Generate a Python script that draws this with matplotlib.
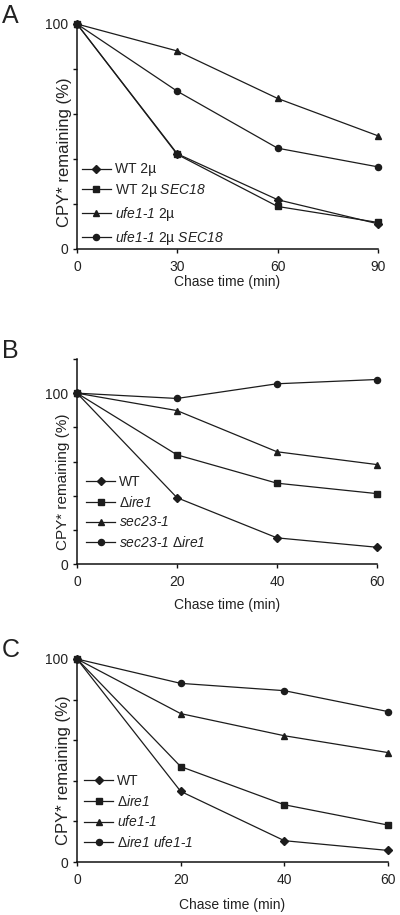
import matplotlib
matplotlib.use("Agg")
import matplotlib.pyplot as plt

plt.rcParams['font.family'] = ['Liberation Sans', 'DejaVu Sans']
plt.rcParams['mathtext.fontset'] = 'custom'
plt.rcParams['mathtext.rm'] = 'Liberation Sans'
plt.rcParams['mathtext.it'] = 'Liberation Sans:italic'
# \mathcal is used as a plain italic so digits come out slanted too
plt.rcParams['mathtext.cal'] = 'Liberation Sans:italic'

# Panel A data (chase time in min, CPY* remaining in %)
timeA = [0, 30, 60, 90]
wt2u = [100, 42.3, 21.9, 11.2]
wt2uSec18 = [100, 42.0, 18.9, 11.8]
ufe2u = [100, 88.0, 66.9, 50.3]
ufe2uSec18 = [100, 70.1, 44.8, 36.5]
labelsA = ["WT 2µ", "WT 2µ $\\mathcal{SEC18}$",
           "$\\mathcal{ufe1}$-$\\mathcal{1}$ 2µ",
           "$\\mathcal{ufe1}$-$\\mathcal{1}$ 2µ $\\mathcal{SEC18}$"]

# Panel B data
timeB = [0, 20, 40, 60]
wtB = [100, 38.8, 15.3, 9.8]
ire1B = [100, 63.9, 47.3, 41.2]
sec23 = [100, 89.8, 65.7, 58.2]
sec23ire1 = [100, 96.9, 105.5, 108.0]
labelsB = ["WT", "Δ$\\mathcal{ire1}$", "$\\mathcal{sec23}$-$\\mathcal{1}$",
           "$\\mathcal{sec23}$-$\\mathcal{1}$ Δ$\\mathcal{ire1}$"]

# Panel C data
timeC = [0, 20, 40, 60]
wtC = [100, 34.8, 10.5, 5.7]
ire1C = [100, 47.0, 28.2, 18.2]
ufe = [100, 73.1, 62.2, 53.9]
ire1ufe = [100, 88.0, 84.4, 74.1]
labelsC = ["WT", "Δ$\\mathcal{ire1}$", "$\\mathcal{ufe1}$-$\\mathcal{1}$",
           "Δ$\\mathcal{ire1}$ $\\mathcal{ufe1}$-$\\mathcal{1}$"]

markers = ['D', 's', '^', 'o']
msizes = [3.6, 4.0, 5.0, 4.4]
lineCol = '#1c1c1c'
textCol = '#222222'

W, H = 400, 915
fig = plt.figure(figsize=(W / 100, H / 100), dpi=100)


def px_axes(left, right, top, bottom):
    return fig.add_axes([left / W, 1 - bottom / H, (right - left) / W, (bottom - top) / H])


def setup(ax, x, series, labels, xmax, ymax, yticks, legAnchor, ylab, xlab, ylabSize):
    for s, m, ms, lab in zip(series, markers, msizes, labels):
        ax.plot(x, s, color=lineCol, lw=0.9, marker=m, ms=ms, mfc=lineCol, mec=lineCol,
                label=lab, clip_on=False, zorder=3)
    ax.set_xlim(0, xmax)
    ax.set_ylim(0, ymax)
    ax.set_xticks(x)
    ax.set_yticks(yticks)
    ax.set_yticklabels([str(t) if t in (0, 100) else '' for t in yticks])
    for sp in ['top', 'right']:
        ax.spines[sp].set_visible(False)
    for sp in ['left', 'bottom']:
        ax.spines[sp].set_linewidth(1.1)
        ax.spines[sp].set_color('#111111')
    ax.tick_params(direction='out', length=2.6, width=1.0, color='#111111',
                   labelsize=10, labelcolor=textCol)
    ax.tick_params(axis='x', pad=5)
    ax.tick_params(axis='y', pad=4)
    ax.set_ylabel("CPY* remaining (%)", fontsize=ylabSize, color=textCol, va='center')
    ax.yaxis.set_label_coords(ylab[0], ylab[1])
    ax.set_xlabel("Chase time (min)", fontsize=10, color=textCol, va='center')
    ax.xaxis.set_label_coords(0.5, xlab)
    ax.legend(loc='upper left', bbox_to_anchor=legAnchor, frameon=False, fontsize=10,
              borderpad=0, borderaxespad=0, handlelength=2.1, handletextpad=0.3,
              labelspacing=0.42, labelcolor=textCol)


axA = px_axes(77, 378, 24, 249)
setup(axA, timeA, [wt2u, wt2uSec18, ufe2u, ufe2uSec18], labelsA, 90, 100,
      [0, 20, 40, 60, 80, 100], (0.016, 0.385), (-0.043, 0.43), -0.147, 12)

axB = px_axes(77, 377, 359, 564)
setup(axB, timeB, [wtB, ire1B, sec23, sec23ire1], labelsB, 60, 120,
      [0, 20, 40, 60, 80, 100, 120], (0.03, 0.435), (-0.045, 0.40), -0.2, 11)

axC = px_axes(77, 388, 659, 862)
setup(axC, timeC, [wtC, ire1C, ufe, ire1ufe], labelsC, 60, 100,
      [0, 20, 40, 60, 80, 100], (0.0225, 0.435), (-0.043, 0.45), -0.212, 12)

# panel letters
for letter, base in [('A', 23), ('B', 358), ('C', 657)]:
    fig.text(2 / W, 1 - base / H, letter, fontsize=18, color=textCol, va='baseline', ha='left')

fig.savefig("out.png", dpi=100)
